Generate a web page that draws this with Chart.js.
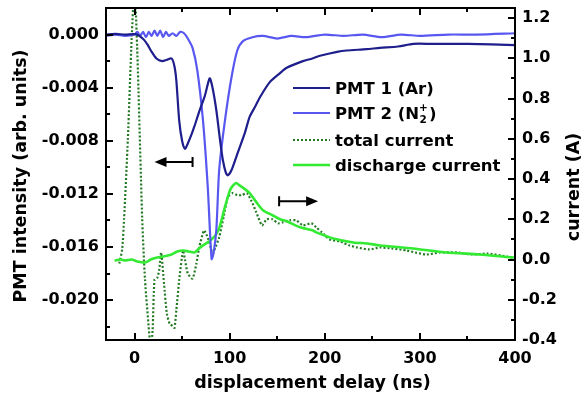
<!DOCTYPE html>
<html><head><meta charset="utf-8">
<script src="https://cdn.jsdelivr.net/npm/chart.js@4/dist/chart.umd.min.js"></script>
<style>html,body{margin:0;padding:0;background:#fff;}#wrap{width:583px;height:408px;position:relative;}</style>
</head><body><div id="wrap"><canvas id="c" width="583" height="408"></canvas></div>
<script>
// ---------- data ----------
const pmt1X = [-30,-20,-10,0,5,10,14,18,23,29,34,39,42,44,47,50,53,56,60,63,68,74,79,82,86,90,93,96,98,102,108,116,121,127,132,142,153,160,177,187,195,213,223,244,258,277,293,313,350,400];
const pmt1Y = [0,0.00005,0,0.00003,-0.0001,-0.0004,-0.0008,-0.0013,-0.0018,-0.002,-0.0019,-0.0018,-0.0024,-0.0035,-0.0065,-0.0080,-0.0086,-0.0082,-0.0075,-0.0069,-0.0058,-0.0046,-0.0033,-0.0040,-0.0057,-0.0080,-0.0095,-0.0104,-0.0106,-0.0102,-0.0090,-0.0074,-0.0062,-0.0054,-0.0047,-0.0036,-0.0029,-0.0025,-0.0020,-0.0018,-0.0016,-0.0013,-0.0012,-0.0011,-0.0010,-0.0009,-0.0007,-0.0007,-0.0007,-0.0008];

const pmt2X = [-30,-20,-10,0,3,6,9,12,15,18,21,24,27,30,33,36,40,44,48,52,56,61,66,72,77,81,83,86,89,95,102,108,114,124,135,150,165,180,200,220,240,260,280,300,330,360,400];
const pmt2Y = [-0.0001,0,-0.0001,0,0.0002,-0.0001,0.0002,-0.0002,0.0002,-0.0001,0.0003,-0.0001,0.0003,-0.0002,0.0002,-0.0001,0.0001,-0.0001,0.0002,0.0001,-0.0003,-0.001,-0.0027,-0.0065,-0.0115,-0.0169,-0.0165,-0.0147,-0.0102,-0.0065,-0.0032,-0.0012,-0.0005,-0.0002,-0.0001,-0.0003,-0.0001,-0.0002,0,-0.0001,0,-0.0002,0,-0.0001,0,0,0.0001];

const totalX = [-16,-13,-11,-7,-3,0,3,8,11,16,17,19,21,24,26,28,31,34,37,40,42,44,47,51,53,56,61,65,68,73,76,79,82,85,89,94,98,103,108,113,118,123,128,134,139,145,151,156,163,170,177,186,191,197,205,216,226,234,247,258,270,286,295,307,321,339,355,371,385,397,400];
const totalY = [-0.02,0.05,0.2,0.6,1.1,1.35,1.02,0.21,-0.1,-0.4,-0.45,-0.35,-0.1,-0.09,-0.05,0.035,-0.12,-0.27,-0.32,-0.33,-0.34,-0.25,-0.1,0.045,0.0,-0.07,-0.095,-0.02,0.06,0.145,0.12,0.08,0.03,0.06,0.11,0.22,0.31,0.33,0.32,0.32,0.33,0.29,0.235,0.17,0.2,0.2,0.18,0.185,0.195,0.195,0.17,0.18,0.16,0.135,0.1,0.09,0.07,0.06,0.05,0.06,0.055,0.045,0.035,0.025,0.035,0.035,0.025,0.03,0.02,0.01,0.012];

const dischX = [-21,-15,-10,-3,3,11,17,24,30,39,45,51,57,63,68,72,77,81,85,89,95,100,103,107,110,113,121,128,135,145,153,160,174,187,191,209,230,244,258,293,328,363,398,400];
const dischY = [-0.005,0.0,-0.005,0,-0.01,-0.015,0,0.01,0.015,0.025,0.04,0.045,0.04,0.035,0.055,0.07,0.085,0.1,0.12,0.155,0.26,0.34,0.365,0.38,0.37,0.36,0.33,0.285,0.245,0.22,0.2,0.19,0.16,0.145,0.135,0.105,0.085,0.08,0.07,0.055,0.035,0.025,0.01,0.012];

const seriesNames = ['PMT 1 (Ar)', 'PMT 2 (N', 'total current', 'discharge current'];
const xTicks = [0,100,200,300,400];
const yLeftTicks = [0,-0.004,-0.008,-0.012,-0.016,-0.020];
const yRightTicks = [-0.4,-0.2,0,0.2,0.4,0.6,0.8,1.0,1.2];
const xMinor = [50,150,250,350];
const yLeftMinor = [-0.002,-0.006,-0.010,-0.014,-0.018,-0.022];
const yRightMinor = [-0.3,-0.1,0.1,0.3,0.5,0.7,0.9,1.1];
// arrow annotations: [xFrom(bar), xTo(head), y, axis]
const arrowLeft = [61, 21, -0.0096];
const arrowRight = [152, 193, 0.29];
const xTitle = 'displacement delay (ns)';
const yLeftTitle = 'PMT intensity (arb. units)';
const yRightTitle = 'current (A)';

// ---------- styles ----------
const C1 = '#1e1e8c', C2 = '#5858f0', C3 = '#257a25', C4 = '#33ea33';
const FONT = 'DejaVu Sans';
const zip = (xs, ys) => xs.map((x, i) => ({x, y: ys[i]}));

const frameTicks = {
  id: 'frameTicks',
  afterDraw(chart) {
    const {ctx, chartArea: a, scales} = chart;
    const x = scales.x, yl = scales.y, yr = scales.y2;
    ctx.save();
    ctx.strokeStyle = '#000';
    ctx.lineWidth = 2;
    ctx.beginPath();
    const MJ = 7, MN = 4;
    const vx = (v, len) => { const p = Math.round(x.getPixelForValue(v)); ctx.moveTo(p, a.bottom); ctx.lineTo(p, a.bottom - len); ctx.moveTo(p, a.top); ctx.lineTo(p, a.top + len); };
    xTicks.forEach(v => vx(v, MJ)); xMinor.forEach(v => vx(v, MN));
    const hl = (v, len) => { const p = Math.round(yl.getPixelForValue(v)); ctx.moveTo(a.left, p); ctx.lineTo(a.left + len, p); };
    yLeftTicks.forEach(v => hl(v, MJ)); yLeftMinor.forEach(v => hl(v, MN));
    const hr = (v, len) => { const p = Math.round(yr.getPixelForValue(v)); ctx.moveTo(a.right, p); ctx.lineTo(a.right - len, p); };
    yRightTicks.forEach(v => hr(v, MJ)); yRightMinor.forEach(v => hr(v, MN));
    ctx.stroke();
    ctx.strokeRect(a.left, a.top, a.right - a.left, a.bottom - a.top);

    // arrows
    const drawArrow = (xf, xt, yPix) => {
      const p1 = x.getPixelForValue(xf), p2 = x.getPixelForValue(xt);
      const dir = Math.sign(p2 - p1);
      ctx.beginPath();
      ctx.moveTo(p1, yPix - 5); ctx.lineTo(p1, yPix + 5);
      ctx.moveTo(p1, yPix); ctx.lineTo(p2 - dir * 8, yPix);
      ctx.stroke();
      ctx.fillStyle = '#000';
      ctx.beginPath();
      ctx.moveTo(p2, yPix); ctx.lineTo(p2 - dir * 12, yPix - 5); ctx.lineTo(p2 - dir * 12, yPix + 5); ctx.closePath();
      ctx.fill();
    };
    drawArrow(arrowLeft[0], arrowLeft[1], yl.getPixelForValue(arrowLeft[2]));
    drawArrow(arrowRight[0], arrowRight[1], yr.getPixelForValue(arrowRight[2]));

    // titles
    ctx.fillStyle = '#000';
    ctx.font = 'bold 17.5px "' + FONT + '"';
    ctx.textAlign = 'center'; ctx.textBaseline = 'middle';
    ctx.fillText(xTitle, (a.left + a.right) / 2 + 2, 383);
    ctx.save(); ctx.translate(21, 176); ctx.rotate(-Math.PI / 2); ctx.fillText(yLeftTitle, 0, 0); ctx.restore();
    ctx.save(); ctx.translate(574, 187); ctx.rotate(-Math.PI / 2); ctx.fillText(yRightTitle, 0, 0); ctx.restore();

    // legend
    const rows = [88, 113, 140, 165];
    const ds = chart.data.datasets;
    ctx.textAlign = 'left'; ctx.textBaseline = 'alphabetic';
    rows.forEach((ry, i) => {
      const d = ds[i];
      ctx.save();
      ctx.strokeStyle = d.borderColor; ctx.lineWidth = d.borderWidth; ctx.setLineDash(d.borderDash || []);
      ctx.beginPath(); ctx.moveTo(293, ry); ctx.lineTo(330, ry); ctx.stroke();
      ctx.restore();
      ctx.font = 'bold 16.5px "' + FONT + '"';
      const bx = 335, by = ry + 6;
      ctx.fillText(seriesNames[i], bx, by);
      if (i === 1) {
        let w = ctx.measureText(seriesNames[i]).width;
        ctx.font = 'bold 10.5px "' + FONT + '"';
        ctx.fillText('2', bx + w + 0.5, by + 4);
        ctx.fillText('+', bx + w, by - 8);
        const sw = Math.max(ctx.measureText('2').width, ctx.measureText('+').width);
        ctx.font = 'bold 16.5px "' + FONT + '"';
        ctx.fillText(')', bx + w + sw + 1, by);
      }
    });
    ctx.restore();
  }
};

const tickFont = {family: FONT, weight: 'bold', size: 16};
const fixTicks = arr => (scale) => { scale.ticks = arr.map(v => ({value: v})); };
const noPad = (s) => { s.paddingTop = 0; s.paddingBottom = 0; s.paddingLeft = 0; s.paddingRight = 0; };

new Chart(document.getElementById('c'), {
  type: 'line',
  data: {
    datasets: [
      {label: seriesNames[0], data: zip(pmt1X, pmt1Y), yAxisID: 'y', borderColor: C1, borderWidth: 2.2, pointRadius: 0, tension: 0.25, order: 1},
      {label: seriesNames[1], data: zip(pmt2X, pmt2Y), yAxisID: 'y', borderColor: C2, borderWidth: 2.2, pointRadius: 0, tension: 0.25, order: 2},
      {label: seriesNames[2], data: zip(totalX, totalY), yAxisID: 'y2', borderColor: C3, borderWidth: 2.2, borderDash: [2, 2], pointRadius: 0, tension: 0.2, order: 4},
      {label: seriesNames[3], data: zip(dischX, dischY), yAxisID: 'y2', borderColor: C4, borderWidth: 2.6, pointRadius: 0, tension: 0.25, order: 3}
    ]
  },
  options: {
    responsive: false, animation: false, devicePixelRatio: 1,
    layout: {padding: {top: 8, left: 0, right: 0, bottom: 0}},
    plugins: {legend: {display: false}, tooltip: {enabled: false}},
    scales: {
      x: {type: 'linear', min: -30, max: 400, position: 'bottom',
          afterBuildTicks: fixTicks(xTicks),
          afterFit: s => { s.height = 68; noPad(s); },
          grid: {display: false, drawTicks: false}, border: {display: false},
          ticks: {font: tickFont, color: '#000', padding: 9, maxRotation: 0, autoSkip: false, callback: v => String(v)}},
      y: {type: 'linear', min: -0.023, max: 0.002, position: 'left',
          afterBuildTicks: fixTicks(yLeftTicks),
          afterFit: s => { s.width = 106; noPad(s); },
          grid: {display: false, drawTicks: false}, border: {display: false},
          ticks: {font: tickFont, color: '#000', padding: 7, autoSkip: false, callback: v => Number(v).toFixed(3)}},
      y2: {type: 'linear', min: -0.4, max: 1.25, position: 'right',
          afterBuildTicks: fixTicks(yRightTicks),
          afterFit: s => { s.width = 68; noPad(s); },
          grid: {display: false, drawTicks: false}, border: {display: false},
          ticks: {font: tickFont, color: '#000', padding: 7, autoSkip: false, callback: v => Number(v).toFixed(1)}}
    }
  },
  plugins: [frameTicks]
});
</script></body></html>
